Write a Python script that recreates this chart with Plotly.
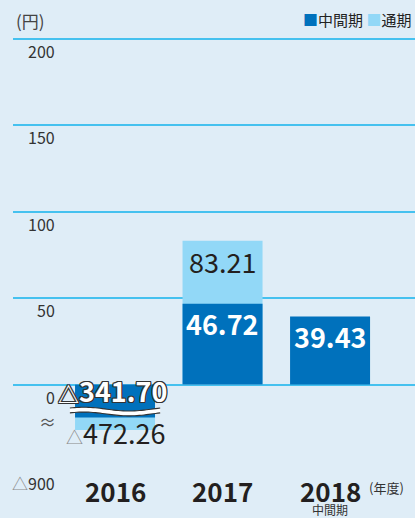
import numpy as np
import plotly.graph_objects as go

# ---- data ----
years = ["2016", "2017", "2018"]
interim = [-341.70, 46.72, 39.43]      # 中間期
fullyear = [-472.26, 83.21, None]      # 通期
interim_labels = ["△341.70", "46.72", "39.43"]
full_labels = ["△472.26", "83.21", None]
tick_values = [-900, 0, 50, 100, 150, 200]
tick_labels = ["△900", "0", "50", "100", "150", "200"]

DARK = "#0071bc"
LIGHT = "#92d8f7"
GRID = "#45c1ef"
BG = "#dfedf7"
FONT = "Noto Sans CJK JP"
TXT = "#231f20"

NEG_K = 50 / 900.0   # compressed (broken) scale below zero


def disp(v):
    if v is None:
        return None
    return v if v >= 0 else v * NEG_K


xs = list(range(len(years)))
fig = go.Figure()
fig.add_bar(x=xs, y=[disp(v) for v in fullyear], marker_color=LIGHT,
            marker_line_width=0, width=0.744, name="通期", hoverinfo="skip")
fig.add_bar(x=xs, y=[disp(v) for v in interim], marker_color=DARK,
            marker_line_width=0, width=0.744, name="中間期", hoverinfo="skip")

ann = []
# y tick labels (placed just under each gridline)
for tv, tl in zip(tick_values, tick_labels):
    if tl.startswith("△"):
        txt = "<span style='color:#8a8a8a'>△</span>" + tl[1:]
    else:
        txt = tl
    ann.append(dict(x=0.1095, xref="paper", y=disp(tv), yref="y", text=txt,
                    xanchor="right", yanchor="middle", yshift=-12, showarrow=False,
                    font=dict(family=FONT, size=16, color="#333333")))

OUTLINE = ("1px 1px 0 #333, -1px -1px 0 #333, 1px -1px 0 #333, -1px 1px 0 #333, "
           "0 1px 0 #333, 0 -1px 0 #333, 1px 0 0 #333, -1px 0 0 #333")

# bar value labels
for i, (v, lab) in enumerate(zip(interim, interim_labels)):
    if v >= 0:
        ann.append(dict(x=xs[i], y=disp(v), text=lab, showarrow=False,
                        xanchor="center", yanchor="middle", yshift=-20,
                        font=dict(family=FONT, size=27, color="white", weight="bold")))
    else:
        ann.append(dict(x=xs[i], y=0, text="<span style='font-size:21px'>△</span>" + lab[1:],
                        showarrow=False, xanchor="center", yanchor="middle", yshift=-6, xshift=-3,
                        font=dict(family=FONT, size=27, color="white", weight="bold",
                                  shadow=OUTLINE)))
for i, (v, lab) in enumerate(zip(fullyear, full_labels)):
    if v is None:
        continue
    if v >= 0:
        ann.append(dict(x=xs[i], y=disp(v), text=lab, showarrow=False,
                        xanchor="center", yanchor="middle", yshift=-21,
                        font=dict(family=FONT, size=27, color=TXT)))
    else:
        ann.append(dict(x=xs[i], y=disp(v), text="<span style='color:#8a8a8a;font-size:17px'>△</span>" + lab[1:],
                        showarrow=False, xanchor="center", yanchor="middle", yshift=-3,
                        font=dict(family=FONT, size=27, color=TXT)))

# category labels
for i, yr in enumerate(years):
    ann.append(dict(x=xs[i], y=0, xref="x", yref="paper", text=yr, showarrow=False,
                    xanchor="center", yanchor="middle", yshift=-19,
                    font=dict(family=FONT, size=26, color=TXT, weight="bold")))
ann.append(dict(x=xs[2] + 0.34, y=0, xref="x", yref="paper", text="(年度)", showarrow=False,
                xanchor="left", yanchor="middle", yshift=-16,
                font=dict(family=FONT, size=13, color="#333333")))
ann.append(dict(x=xs[2], y=0, xref="x", yref="paper", text="中間期", showarrow=False,
                xanchor="center", yanchor="middle", yshift=-38,
                font=dict(family=FONT, size=12, color="#333333")))

# unit + legend
ann.append(dict(x=0, y=1, xref="paper", yref="paper", text="(円)", showarrow=False,
                xanchor="left", yanchor="middle", xshift=1, yshift=10,
                font=dict(family=FONT, size=17, color="#444444")))
ann.append(dict(x=1, y=1, xref="paper", yref="paper",
                text=f"<span style='color:{DARK}'>■</span>中間期 <span style='color:{LIGHT}'>■</span>通期",
                showarrow=False, xanchor="right", yanchor="middle", xshift=-2, yshift=11,
                font=dict(family=FONT, size=15, color="#222222")))

# axis-break mark on the axis
ann.append(dict(x=0.085, xref="paper", y=disp(-341.70), yref="y", text="≈", showarrow=False,
                xanchor="center", yanchor="middle", yshift=-4,
                font=dict(family=FONT, size=17, color="#555555")))

# wavy break over the 2016 bar
x0, x1 = xs[0] - 0.42, xs[0] + 0.42
wx = np.linspace(x0, x1, 40)
yc = -15.6
amp = 1.1
hh = 1.4
phase = (wx - x0) / (x1 - x0) * 2 * np.pi
top = yc + hh + amp * np.sin(phase + 0.6)
bot = yc - hh + amp * np.sin(phase + 0.6)
fill_path = "M " + " L ".join(f"{a:.4f},{b:.4f}" for a, b in zip(wx, top))
fill_path += " L " + " L ".join(f"{a:.4f},{b:.4f}" for a, b in zip(wx[::-1], bot[::-1])) + " Z"
top_path = "M " + " L ".join(f"{a:.4f},{b:.4f}" for a, b in zip(wx, top))
bot_path = "M " + " L ".join(f"{a:.4f},{b:.4f}" for a, b in zip(wx, bot))
shapes = [
    dict(type="path", path=fill_path, fillcolor="white", line=dict(width=0), layer="above"),
    dict(type="path", path=top_path, line=dict(color="#333333", width=1.1), layer="above"),
    dict(type="path", path=bot_path, line=dict(color="#333333", width=1.1), layer="above"),
]

fig.update_layout(
    width=415, height=518,
    margin=dict(l=13, r=0, t=30, b=47),
    paper_bgcolor=BG, plot_bgcolor=BG,
    barmode="overlay", showlegend=False,
    annotations=ann, shapes=shapes,
    xaxis=dict(range=[-0.949, 2.79], showgrid=False, showticklabels=False,
               zeroline=False, fixedrange=True),
    yaxis=dict(range=[-50, 205.2], tickvals=[disp(v) for v in tick_values],
               showticklabels=False, showgrid=True, gridcolor=GRID, gridwidth=1.5,
               zeroline=False, fixedrange=True),
    font=dict(family=FONT),
)

fig.write_html("out.html", config={"displayModeBar": False},
               post_script="document.body.style.margin='0';document.body.style.overflow='hidden';document.documentElement.style.overflow='hidden';")
